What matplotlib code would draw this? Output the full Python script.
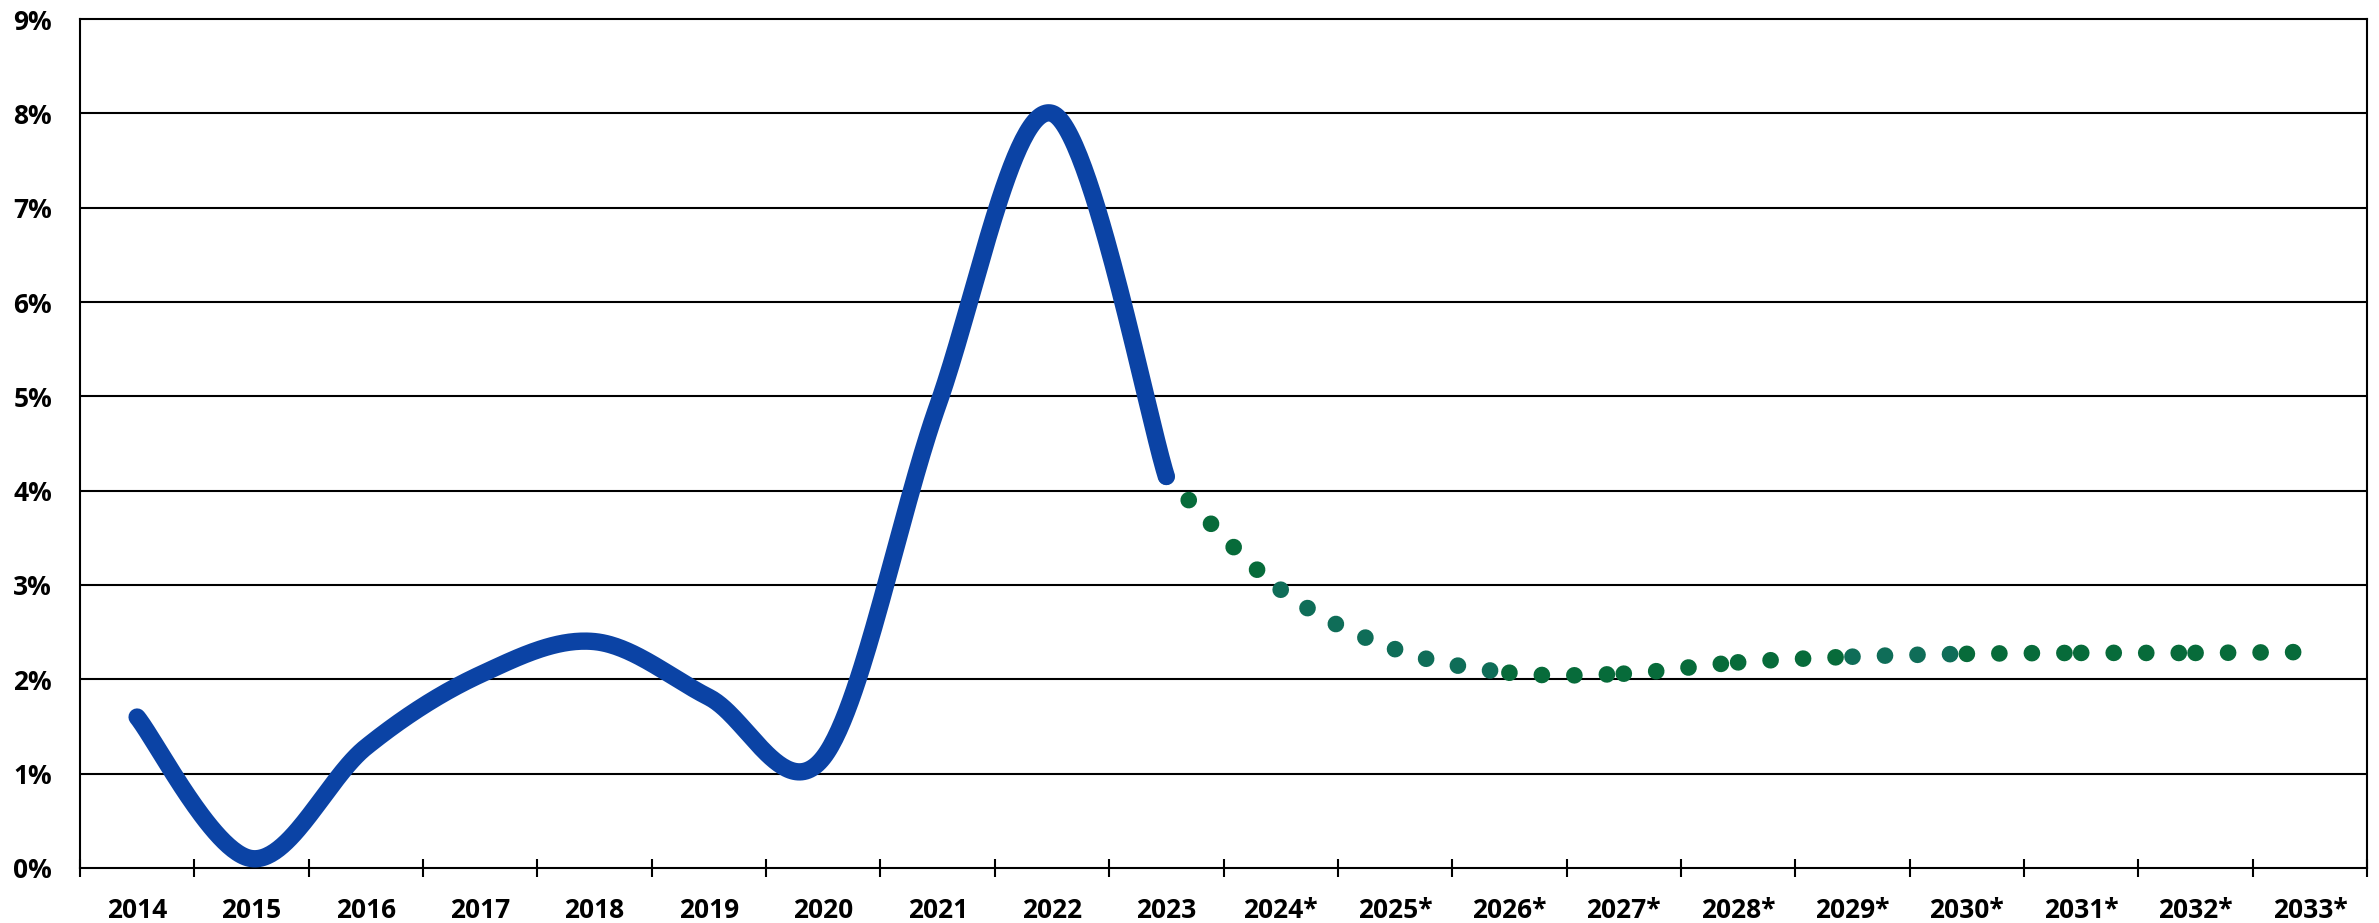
import numpy as np
import matplotlib.pyplot as plt
from matplotlib.ticker import FixedLocator, FuncFormatter

plt.rcParams['font.family'] = ['Open Sans', 'DejaVu Sans']

# categories
years = ['2014', '2015', '2016', '2017', '2018', '2019', '2020', '2021', '2022', '2023',
         '2024*', '2025*', '2026*', '2027*', '2028*', '2029*', '2030*', '2031*', '2032*', '2033*']

# actual inflation (2014 - 2023), percent
actual = [1.60, 0.10, 1.28, 2.05, 2.40, 1.81, 1.17, 4.90, 8.00, 4.15]

# forecast (2023 - 2033*), percent
forecast = [4.15, 2.95, 2.32, 2.07, 2.06, 2.18, 2.24, 2.27, 2.28, 2.28, 2.29]
forecast_start = 9  # index of 2023

blue = '#0B43A5'
green = '#076B3A'
teal = '#0F6D58'
seg_colors = [green, teal, teal, green, green, green, teal, green, green, green]


def smooth(xs, ys, n=60):
    # excel style smoothed line (catmull-rom as bezier), one piece per segment
    xs = np.asarray(xs, float)
    ys = np.asarray(ys, float)
    pieces = []
    for i in range(len(xs) - 1):
        p0 = np.array([xs[max(i - 1, 0)], ys[max(i - 1, 0)]])
        p1 = np.array([xs[i], ys[i]])
        p2 = np.array([xs[i + 1], ys[i + 1]])
        p3 = np.array([xs[min(i + 2, len(xs) - 1)], ys[min(i + 2, len(xs) - 1)]])
        c1 = p1 + (p2 - p0) / 6
        c2 = p2 - (p3 - p1) / 6
        t = np.linspace(0, 1, n)[:, None]
        b = (1 - t) ** 3 * p1 + 3 * (1 - t) ** 2 * t * c1 + 3 * (1 - t) * t ** 2 * c2 + t ** 3 * p2
        pieces.append(b)
    return pieces


fig = plt.figure(figsize=(23.79, 9.23), dpi=100)
ax = fig.add_axes([0.0336, 0.0596, 0.9614, 0.9198])

x_act = np.arange(len(actual))
x_fc = np.arange(forecast_start, forecast_start + len(forecast))

# forecast, dotted, drawn segment by segment
for k, seg in enumerate(smooth(x_fc, forecast)):
    ax.plot(seg[:, 0], seg[:, 1], color=seg_colors[k % len(seg_colors)], lw=12,
            linestyle=(0, (0.001, 1.95)), dash_capstyle='round', zorder=3)

pts = np.vstack(smooth(x_act, actual))
ax.plot(pts[:, 0], pts[:, 1], color=blue, lw=12.5, solid_capstyle='round',
        solid_joinstyle='round', zorder=4)

ax.set_xlim(-0.5, len(years) - 0.5)
ax.set_ylim(0, 9)

ax.set_yticks(np.arange(0, 10, 1))
ax.yaxis.set_major_formatter(FuncFormatter(lambda v, p: '%d%%' % v))
ax.tick_params(axis='y', length=0, pad=20, labelsize=19)
for lab in ax.get_yticklabels():
    lab.set_fontweight('bold')

ax.xaxis.set_major_locator(FixedLocator(np.arange(-0.5, len(years), 1)))
ax.xaxis.set_minor_locator(FixedLocator(np.arange(len(years))))
ax.set_xticklabels([], minor=False)
ax.set_xticklabels(years, minor=True, fontweight='bold', fontsize=19)
ax.tick_params(axis='x', which='major', direction='inout', length=13, width=1.5, color='black')
ax.tick_params(axis='x', which='minor', length=0, pad=21)

for v in range(1, 9):
    ax.axhline(v, color='black', lw=1.5, zorder=1)
for s in ax.spines.values():
    s.set_linewidth(1.5)
    s.set_color('black')

fig.savefig('out.png', dpi=100)
